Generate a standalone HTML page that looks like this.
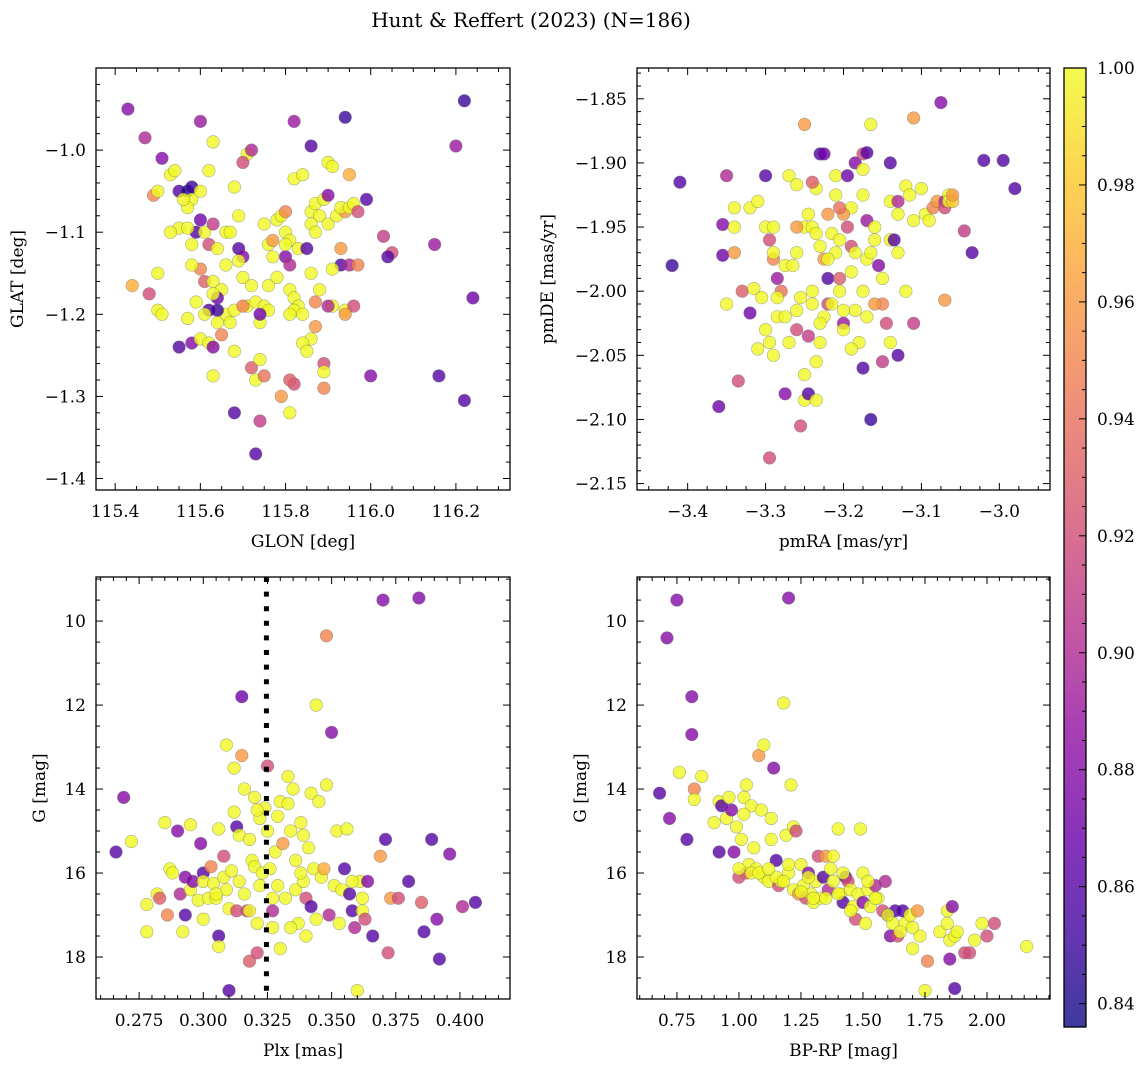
<!DOCTYPE html>
<html><head><meta charset="utf-8"><style>
html,body{margin:0;padding:0;background:#fff;}
svg{display:block;font-family:"DejaVu Serif","Liberation Serif",serif;}
</style></head><body>
<svg id="fig" width="1148" height="1067" viewBox="0 0 1148 1067" xmlns="http://www.w3.org/2000/svg">
<rect width="1148" height="1067" fill="#fff"/>
<text x="531" y="27" font-size="20" text-anchor="middle">Hunt &amp; Reffert (2023) (N=186)</text>
</svg>
<script>
// ---- data (x, y, membership probability) ----
const posData = [[115.43,-0.95,.88],[115.47,-0.985,.90],[115.51,-1.01,.88],[115.49,-1.055,.95],[115.50,-1.05,1],[115.53,-1.03,1],[115.54,-1.025,1],[115.55,-1.05,.86],[115.57,-1.05,.84],[115.58,-1.045,.85],[115.58,-1.06,1],[115.60,-0.965,.89],[115.62,-1.025,1],[115.63,-0.99,1],[115.60,-1.05,1],[115.57,-1.07,1],[115.60,-1.085,.87],[115.59,-1.1,.86],[115.55,-1.095,1],[115.57,-1.095,1],[115.53,-1.10,1],[115.58,-1.115,1],[115.61,-1.10,1],[115.63,-1.09,.91],[115.62,-1.115,.92],[115.60,-1.145,.95],[115.61,-1.16,.93],[115.64,-1.12,1],[115.63,-1.16,1],[115.66,-1.14,1],[115.65,-1.17,1],[115.64,-1.18,.87],[115.63,-1.175,1],[115.59,-1.185,1],[115.62,-1.195,.86],[115.61,-1.20,1],[115.64,-1.21,1],[115.66,-1.20,1],[115.67,-1.21,1],[115.55,-1.24,.86],[115.58,-1.235,.88],[115.60,-1.23,1],[115.62,-1.235,1],[115.63,-1.24,.88],[115.63,-1.275,1],[115.68,-1.245,1],[115.68,-1.32,.86],[115.72,-1.265,.93],[115.73,-1.28,1],[115.74,-1.255,1],[115.75,-1.275,.94],[115.74,-1.33,.91],[115.73,-1.37,.86],[115.69,-1.08,1],[115.68,-1.045,1],[115.71,-1.005,1],[115.70,-1.015,.92],[115.72,-1.0,.90],[115.69,-1.12,.86],[115.70,-1.13,.88],[115.69,-1.135,1],[115.70,-1.155,1],[115.72,-1.165,1],[115.71,-1.19,1],[115.73,-1.185,1],[115.75,-1.19,1],[115.74,-1.21,1],[115.76,-1.195,1],[115.78,-1.085,1],[115.79,-1.08,1],[115.80,-1.075,.95],[115.76,-1.115,1],[115.77,-1.11,.96],[115.80,-1.10,1],[115.81,-1.11,1],[115.82,-1.035,1],[115.82,-0.965,.89],[115.84,-1.03,1],[115.86,-0.995,.86],[115.80,-1.13,.88],[115.81,-1.14,.90],[115.83,-1.12,1],[115.85,-1.12,.86],[115.81,-1.17,1],[115.82,-1.18,1],[115.83,-1.19,1],[115.82,-1.195,1],[115.84,-1.20,1],[115.81,-1.20,1],[115.87,-1.185,.95],[115.87,-1.215,.96],[115.86,-1.23,1],[115.84,-1.235,1],[115.85,-1.245,1],[115.82,-1.285,.92],[115.81,-1.28,.93],[115.79,-1.30,.96],[115.81,-1.32,1],[115.89,-1.26,.92],[115.89,-1.27,1],[115.89,-1.29,.95],[115.86,-1.075,1],[115.87,-1.065,1],[115.88,-1.08,1],[115.86,-1.09,1],[115.87,-1.10,1],[115.89,-1.06,1],[115.90,-1.015,1],[115.90,-1.055,.88],[115.91,-1.02,1],[115.90,-1.09,1],[115.92,-1.08,1],[115.94,-0.96,.85],[115.94,-1.075,.96],[115.93,-1.07,1],[115.95,-1.07,1],[115.96,-1.065,1],[115.95,-1.03,.97],[115.97,-1.075,.92],[115.99,-1.06,.86],[115.93,-1.12,.96],[115.93,-1.14,.86],[115.91,-1.145,1],[115.95,-1.14,.90],[115.97,-1.14,.95],[115.94,-1.195,1],[115.96,-1.19,.92],[115.94,-1.20,.96],[115.91,-1.19,1],[115.90,-1.19,.90],[116.00,-1.275,.88],[116.03,-1.105,.91],[116.05,-1.125,.92],[116.04,-1.13,.86],[116.15,-1.115,.89],[116.16,-1.275,.86],[116.20,-0.995,.89],[116.22,-0.94,.85],[116.22,-1.305,.86],[116.24,-1.18,.87],[115.44,-1.165,.97],[115.48,-1.175,.92],[115.50,-1.15,1],[115.50,-1.195,1],[115.51,-1.2,1],[115.57,-1.205,1],[115.64,-1.195,.85],[115.68,-1.195,1],[115.70,-1.19,.95],[115.76,-1.165,1],[115.77,-1.13,1],[115.78,-1.155,1],[115.80,-1.115,1],[115.86,-1.15,1],[115.88,-1.17,1],[115.66,-1.10,1],[115.67,-1.10,1],[115.75,-1.09,1],[115.74,-1.20,.87],[115.65,-1.225,.95],[115.56,-1.06,1],[115.58,-1.14,1]];
const pmData = [[-3.41,-1.915,.86],[-3.42,-1.98,.85],[-3.36,-2.09,.87],[-3.35,-1.91,.90],[-3.355,-1.948,.88],[-3.355,-1.972,.87],[-3.34,-1.935,1],[-3.34,-1.95,1],[-3.34,-1.97,.96],[-3.35,-2.01,1],[-3.335,-2.07,.92],[-3.33,-2.0,.93],[-3.32,-1.935,1],[-3.31,-1.93,1],[-3.32,-2.017,.87],[-3.315,-1.998,1],[-3.305,-2.005,1],[-3.30,-1.91,.86],[-3.30,-1.95,1],[-3.295,-1.96,.92],[-3.29,-1.95,1],[-3.29,-1.975,.95],[-3.285,-1.99,.89],[-3.29,-1.97,1],[-3.30,-2.03,1],[-3.295,-2.04,1],[-3.29,-2.05,1],[-3.285,-2.02,1],[-3.28,-2.0,.94],[-3.27,-1.91,1],[-3.275,-1.98,1],[-3.265,-1.98,1],[-3.26,-1.97,1],[-3.255,-2.005,1],[-3.26,-2.015,1],[-3.27,-2.04,1],[-3.275,-2.08,.88],[-3.295,-2.13,.92],[-3.255,-2.105,.92],[-3.25,-2.085,1],[-3.25,-2.065,1],[-3.245,-2.08,.86],[-3.245,-2.035,.91],[-3.24,-2.0,1],[-3.25,-1.87,.96],[-3.26,-1.917,1],[-3.25,-1.95,1],[-3.245,-1.94,1],[-3.24,-1.95,1],[-3.235,-1.955,1],[-3.23,-1.893,.86],[-3.225,-1.893,.87],[-3.235,-1.92,1],[-3.23,-1.965,1],[-3.225,-1.975,.96],[-3.22,-1.99,.86],[-3.22,-2.01,.92],[-3.215,-2.01,1],[-3.225,-2.02,1],[-3.23,-2.025,1],[-3.23,-2.04,1],[-3.235,-2.055,1],[-3.235,-2.085,1],[-3.22,-1.94,.96],[-3.215,-1.955,1],[-3.21,-1.97,1],[-3.21,-1.925,1],[-3.21,-1.91,1],[-3.205,-1.99,.93],[-3.205,-2.0,1],[-3.2,-2.025,.89],[-3.2,-2.03,1],[-3.195,-1.91,.87],[-3.19,-1.935,1],[-3.195,-1.95,.92],[-3.19,-1.965,.92],[-3.185,-1.97,1],[-3.185,-2.015,1],[-3.18,-2.04,1],[-3.19,-2.045,1],[-3.185,-1.9,.88],[-3.175,-1.893,.92],[-3.17,-1.892,.86],[-3.175,-1.905,1],[-3.175,-1.925,1],[-3.17,-1.975,1],[-3.165,-1.97,1],[-3.17,-1.945,.89],[-3.16,-1.95,1],[-3.16,-1.96,1],[-3.165,-1.87,1],[-3.175,-2.0,1],[-3.17,-2.02,1],[-3.175,-2.06,.86],[-3.165,-2.1,.85],[-3.155,-1.98,.88],[-3.15,-1.99,1],[-3.15,-2.01,.95],[-3.145,-2.025,.92],[-3.15,-2.055,.91],[-3.14,-2.04,1],[-3.13,-2.05,.86],[-3.13,-1.97,1],[-3.14,-1.96,1],[-3.14,-1.9,.86],[-3.14,-1.93,1],[-3.13,-1.93,.9],[-3.13,-1.94,1],[-3.135,-1.96,.86],[-3.12,-1.918,1],[-3.11,-1.865,.96],[-3.115,-1.925,1],[-3.11,-1.945,1],[-3.11,-2.025,.91],[-3.1,-1.92,1],[-3.095,-1.94,1],[-3.09,-1.945,1],[-3.085,-1.935,.95],[-3.08,-1.93,.96],[-3.07,-1.93,.9],[-3.065,-1.925,1],[-3.075,-1.853,.88],[-3.07,-1.935,.92],[-3.065,-1.93,1],[-3.06,-1.93,.98],[-3.045,-1.953,.91],[-3.035,-1.97,.86],[-3.07,-2.007,.96],[-3.02,-1.898,.86],[-2.995,-1.898,.86],[-2.98,-1.92,.86],[-3.06,-1.925,.96],[-3.24,-1.915,.93],[-3.2,-1.94,.96],[-3.26,-1.95,.96],[-3.31,-2.045,1],[-3.19,-1.985,1],[-3.205,-1.96,1],[-3.22,-1.975,1],[-3.24,-2.01,1],[-3.26,-2.03,.92],[-3.275,-2.02,1],[-3.2,-2.015,1],[-3.16,-2.01,.96],[-3.285,-2.005,1],[-3.12,-2.0,1],[-3.205,-1.935,.94]];
const plxData = [[0.266,15.5,.86],[0.269,14.2,.88],[0.272,15.25,1],[0.278,17.4,1],[0.278,16.75,1],[0.282,16.5,1],[0.283,16.6,.93],[0.285,14.8,1],[0.286,17.0,.95],[0.287,15.9,1],[0.288,16.0,1],[0.290,15.0,.88],[0.291,16.5,.90],[0.292,17.4,1],[0.293,16.1,.88],[0.293,17.0,.86],[0.295,14.85,1],[0.295,16.4,1],[0.296,16.2,.88],[0.298,16.65,1],[0.299,15.3,.88],[0.300,16.0,.86],[0.300,16.2,1],[0.300,17.1,1],[0.302,16.6,1],[0.303,15.85,.95],[0.304,16.25,1],[0.305,16.6,1],[0.306,14.95,1],[0.306,17.5,.86],[0.306,17.75,1],[0.308,15.6,.92],[0.308,16.1,1],[0.309,12.95,1],[0.309,16.4,1],[0.310,16.85,1],[0.310,18.8,.86],[0.311,15.95,1],[0.312,13.5,1],[0.312,14.55,1],[0.313,14.9,.86],[0.313,16.9,.92],[0.314,16.2,1],[0.314,15.1,1],[0.315,13.2,.96],[0.315,11.8,.87],[0.316,14.0,1],[0.316,16.5,1],[0.317,16.9,.92],[0.318,18.1,.93],[0.319,15.7,1],[0.320,14.2,1],[0.320,15.85,1],[0.321,17.2,1],[0.321,17.9,.92],[0.322,16.3,1],[0.322,14.7,1],[0.323,16.0,1],[0.324,14.45,1],[0.325,13.45,.92],[0.325,15.0,1],[0.326,15.9,1],[0.327,16.9,.9],[0.327,17.3,1],[0.328,15.5,1],[0.329,16.3,1],[0.330,17.8,1],[0.330,14.3,1],[0.331,15.3,.96],[0.332,16.6,1],[0.333,13.7,1],[0.333,14.35,1],[0.334,15.0,1],[0.335,14.0,1],[0.336,15.7,1],[0.336,16.4,1],[0.337,17.2,1],[0.338,14.8,1],[0.339,16.2,1],[0.340,17.5,1],[0.340,16.6,.92],[0.341,15.4,1],[0.342,16.8,.86],[0.342,14.1,1],[0.343,15.9,1],[0.344,17.1,1],[0.344,12.0,1],[0.345,14.3,1],[0.346,16.1,1],[0.347,15.9,.97],[0.348,13.9,1],[0.348,10.35,.95],[0.349,17.0,.9],[0.350,12.65,.88],[0.351,16.3,1],[0.352,15.0,1],[0.353,17.2,1],[0.354,16.4,1],[0.355,15.9,.86],[0.356,14.95,1],[0.357,16.5,.86],[0.358,16.9,.86],[0.359,17.3,.90],[0.360,18.8,1],[0.361,16.2,1],[0.362,16.9,1],[0.363,17.1,.92],[0.364,16.2,.88],[0.366,17.5,.86],[0.369,15.6,.96],[0.370,9.5,.88],[0.371,15.2,.86],[0.372,17.9,.92],[0.373,16.6,.96],[0.376,16.6,.92],[0.380,16.2,.86],[0.384,9.45,.88],[0.385,16.7,.93],[0.386,17.4,.86],[0.389,15.2,.86],[0.391,17.1,.88],[0.392,18.05,.86],[0.396,15.55,.88],[0.401,16.8,.9],[0.406,16.7,.86],[0.358,16.2,1],[0.362,16.6,1],[0.338,16.0,1],[0.318,16.9,1],[0.305,16.5,1],[0.327,16.6,1],[0.334,17.3,1],[0.318,15.2,1],[0.329,14.65,1],[0.321,14.5,1],[0.339,15.1,1]];
const cmdData = [[0.68,14.1,.86],[0.71,10.4,.88],[0.72,14.7,.88],[0.75,9.5,.88],[0.76,13.6,1],[0.79,15.2,.86],[0.81,11.8,.88],[0.81,12.7,.88],[0.82,14.0,.95],[0.82,14.25,1],[0.85,13.7,1],[0.9,14.8,1],[0.92,15.5,.86],[0.92,14.3,1],[0.93,14.4,.86],[0.95,14.7,1],[0.96,14.2,1],[0.97,14.5,.88],[0.98,15.5,.88],[0.99,14.9,1],[1.0,16.1,.92],[1.01,15.2,1],[1.02,14.2,1],[1.03,13.9,1],[1.03,16.0,.93],[1.04,15.8,1],[1.05,14.4,1],[1.06,15.4,1],[1.07,15.9,1],[1.08,13.2,.96],[1.09,14.5,1],[1.1,12.95,1],[1.1,16.1,1],[1.12,16.2,1],[1.13,15.2,1],[1.14,13.5,.88],[1.15,15.7,.86],[1.16,16.3,.92],[1.17,16.2,1],[1.18,11.95,1],[1.19,15.1,1],[1.2,9.45,.88],[1.2,16.0,1],[1.21,13.9,1],[1.22,14.9,1],[1.22,16.4,1],[1.23,15.0,.92],[1.24,16.5,.96],[1.25,15.8,1],[1.26,16.3,1],[1.27,16.6,.92],[1.28,16.0,.88],[1.29,16.5,1],[1.3,16.7,1],[1.31,16.2,1],[1.32,15.6,.92],[1.33,16.6,1],[1.34,16.1,.86],[1.35,15.6,.96],[1.36,16.4,.90],[1.37,15.9,1],[1.38,15.6,1],[1.4,14.95,1],[1.41,16.5,1],[1.42,16.7,.86],[1.43,16.1,.86],[1.44,16.2,.92],[1.45,16.4,1],[1.46,16.8,1],[1.47,17.1,.92],[1.48,16.5,1],[1.49,14.95,1],[1.5,16.0,1],[1.5,16.7,.88],[1.51,17.2,1],[1.52,16.4,1],[1.53,16.8,1],[1.55,16.3,.9],[1.56,16.6,1],[1.58,16.9,.92],[1.59,16.2,.9],[1.6,17.0,.86],[1.61,17.5,.88],[1.62,17.2,1],[1.63,16.9,.86],[1.64,17.5,.92],[1.66,16.9,.86],[1.67,17.2,1],[1.69,17.0,1],[1.7,17.8,1],[1.72,16.9,.96],[1.73,17.5,1],[1.75,18.8,1],[1.76,18.1,.95],[1.81,17.4,1],[1.84,16.9,1],[1.84,17.2,1],[1.85,17.6,1],[1.85,18.05,.88],[1.86,16.8,.88],[1.87,17.5,1],[1.87,18.75,.86],[1.88,17.4,1],[1.91,17.9,.92],[1.93,17.9,.92],[1.95,17.6,1],[1.98,17.2,1],[2.0,17.5,.92],[2.03,17.2,.92],[2.16,17.75,1],[1.05,16.0,1],[1.15,16.1,1],[1.25,16.45,1],[1.3,16.6,1],[1.35,16.6,1],[1.4,16.5,1],[1.45,16.9,1],[1.18,16.2,1],[1.08,16.0,1],[1.12,15.9,1],[1.28,16.1,1],[1.2,15.8,1],[1.55,16.6,1],[1.6,17.0,1],[1.52,16.2,1],[1.42,16.0,1],[1.38,16.2,1],[1.65,17.4,1],[1.7,17.3,1],[1.0,15.9,1],[1.13,14.7,1],[1.02,14.6,1]];
const xTicks1 = [115.4,115.6,115.8,116.0,116.2];
const yTicks1 = [-1.0,-1.1,-1.2,-1.3,-1.4];
const xTicks2 = [-3.4,-3.3,-3.2,-3.1,-3.0];
const yTicks2 = [-1.85,-1.90,-1.95,-2.00,-2.05,-2.10,-2.15];
const xTicks3 = [0.275,0.300,0.325,0.350,0.375,0.400];
const gTicks = [10,12,14,16,18];
const xTicks4 = [0.75,1.00,1.25,1.50,1.75,2.00];
const cbTicks = [0.84,0.86,0.88,0.90,0.92,0.94,0.96,0.98,1.00];
const plxCut = 0.3246;

const NS='http://www.w3.org/2000/svg';
const svg=document.getElementById('fig');
const FS=17;
function mk(tag,attrs,parent){const e=document.createElementNS(NS,tag);for(const k in attrs)e.setAttribute(k,attrs[k]);(parent||svg).appendChild(e);return e;}
const PL=[[13,8,135],[65,4,157],[106,0,168],[143,13,164],[177,42,144],[204,71,120],[225,100,98],[242,132,75],[252,166,54],[252,206,37],[240,249,33]];
const VMIN=0.836,VMAX=1.0;
function cmap(v){let t=(v-VMIN)/(VMAX-VMIN);t=Math.max(0,Math.min(1,t))*10;const i=Math.min(9,Math.floor(t)),f=t-i;const a=PL[i],b=PL[i+1];return 'rgb('+a.map((c,k)=>Math.round(c+(b[k]-c)*f)).join(',')+')';}
const minus=s=>s.replace('-','\u2212');

function panel(cfg){
  const g=mk('g',{});
  
  
  const {L,T,W,H,xr,yr,inv}=cfg;
  const sx=v=>L+(v-xr[0])/(xr[1]-xr[0])*W;
  const sy=v=>inv?T+(v-yr[0])/(yr[1]-yr[0])*H:T+H-(v-yr[0])/(yr[1]-yr[0])*H;
  const cp='cp'+cfg.name;
  const cd=mk('clipPath',{id:cp},g);mk('rect',{x:L,y:T,width:W,height:H},cd);
  const pts=mk('g',{'clip-path':'url(#'+cp+')'},g);
  cfg.data.forEach(d=>{
    const c=mk('circle',{cx:sx(d[0]).toFixed(1),cy:sy(d[1]).toFixed(1),r:6.3,fill:cmap(d[2]),'fill-opacity':0.8,stroke:'#666','stroke-opacity':0.5,'stroke-width':0.6},pts);
    
    
  });
  if(cfg.vline!==undefined){
    const l=mk('line',{x1:sx(cfg.vline),x2:sx(cfg.vline),y1:T,y2:T+H,stroke:'#000','stroke-width':5,'stroke-dasharray':'5 9.6'},pts);
    
    
  }
  mk('rect',{x:L,y:T,width:W,height:H,fill:'none',stroke:'#000','stroke-width':1.3},g);
  const tk=mk('g',{stroke:'#000','stroke-width':1},g);
  function minors(r,step,majors){const out=[];const a=Math.ceil(Math.min(...r)/step-1e-6),b=Math.floor(Math.max(...r)/step+1e-6);for(let i=a;i<=b;i++){const v=i*step;if(!majors.some(m=>Math.abs(m-v)<step/10))out.push(v);}return out;}
  cfg.xt.forEach(v=>{const x=sx(v);mk('line',{x1:x,x2:x,y1:T+H,y2:T+H-7},tk);mk('line',{x1:x,x2:x,y1:T,y2:T+7},tk);
    const t=mk('text',{x:x,y:T+H+27,'font-size':FS,'text-anchor':'middle',stroke:'none'},g);t.textContent=minus(v.toFixed(cfg.xd));
    });
  minors(xr,cfg.xm,cfg.xt).forEach(v=>{const x=sx(v);mk('line',{x1:x,x2:x,y1:T+H,y2:T+H-4},tk);mk('line',{x1:x,x2:x,y1:T,y2:T+4},tk);});
  cfg.yt.forEach(v=>{const y=sy(v);mk('line',{x1:L,x2:L+7,y1:y,y2:y},tk);mk('line',{x1:L+W,x2:L+W-7,y1:y,y2:y},tk);
    const t=mk('text',{x:L-10,y:y+6,'font-size':FS,'text-anchor':'end',stroke:'none'},g);t.textContent=minus(v.toFixed(cfg.yd));
    });
  minors(yr,cfg.ym,cfg.yt).forEach(v=>{const y=sy(v);mk('line',{x1:L,x2:L+4,y1:y,y2:y},tk);mk('line',{x1:L+W,x2:L+W-4,y1:y,y2:y},tk);});
  const xl=mk('text',{x:L+W/2,y:T+H+57,'font-size':FS,'text-anchor':'middle'},g);xl.textContent=cfg.xlab;
  
  const yx=cfg.ylx;const yl=mk('text',{x:yx,y:T+H/2,'font-size':FS,'text-anchor':'middle',transform:'rotate(-90 '+yx+' '+(T+H/2)+')'},g);yl.textContent=cfg.ylab;
  
}
panel({name:'position-panel',L:96,T:68,W:414,H:422,xr:[115.355,116.327],yr:[-1.414,-0.900],inv:false,data:posData,xt:xTicks1,yt:yTicks1,xd:1,yd:1,xm:0.05,ym:0.02,xlab:'GLON [deg]',ylab:'GLAT [deg]',ylx:23});
panel({name:'proper-motion-panel',L:637,T:68,W:413,H:422,xr:[-3.465,-2.935],yr:[-2.155,-1.826],inv:false,data:pmData,xt:xTicks2,yt:yTicks2,xd:1,yd:2,xm:0.025,ym:0.01,xlab:'pmRA [mas/yr]',ylab:'pmDE [mas/yr]',ylx:553});
panel({name:'parallax-panel',L:96,T:577,W:414,H:422,xr:[0.2582,0.4195],yr:[8.95,19.0],inv:true,data:plxData,xt:xTicks3,yt:gTicks,xd:3,yd:0,xm:0.005,ym:0.5,xlab:'Plx [mas]',ylab:'G [mag]',ylx:45,vline:plxCut});
panel({name:'cmd-panel',L:637,T:577,W:413,H:422,xr:[0.589,2.254],yr:[8.95,19.0],inv:true,data:cmdData,xt:xTicks4,yt:gTicks,xd:2,yd:0,xm:0.05,ym:0.5,xlab:'BP-RP [mag]',ylab:'G [mag]',ylx:586});

(function(){
  const g=mk('g',{});
  
  
  const L=1064,T=68,W=22,H=959;
  const defs=mk('defs',{},g);
  const lg=mk('linearGradient',{id:'cbg',x1:0,y1:1,x2:0,y2:0},defs);
  for(let i=0;i<=20;i++){const v=VMIN+(VMAX-VMIN)*i/20;mk('stop',{offset:i/20,'stop-color':cmap(v)},lg);}
  mk('rect',{x:L,y:T,width:W,height:H,fill:'url(#cbg)','fill-opacity':0.8},g);
  mk('rect',{x:L,y:T,width:W,height:H,fill:'none',stroke:'#000','stroke-width':1.3},g);
  const sy=v=>T+H-(v-VMIN)/(VMAX-VMIN)*H;
  cbTicks.forEach(v=>{const y=sy(v);mk('line',{x1:L+W,x2:L+W-7,y1:y,y2:y,stroke:'#000'},g);
    const t=mk('text',{x:L+W+11,y:y+6,'font-size':FS},g);t.textContent=v.toFixed(2);
    });
  for(let v=0.84;v<1.0;v+=0.005){if(Math.abs(Math.round(v/0.02)*0.02-v)>1e-4){const y=sy(v);mk('line',{x1:L+W,x2:L+W-4,y1:y,y2:y,stroke:'#000'},g);}}
})();
</script>
</body></html>
